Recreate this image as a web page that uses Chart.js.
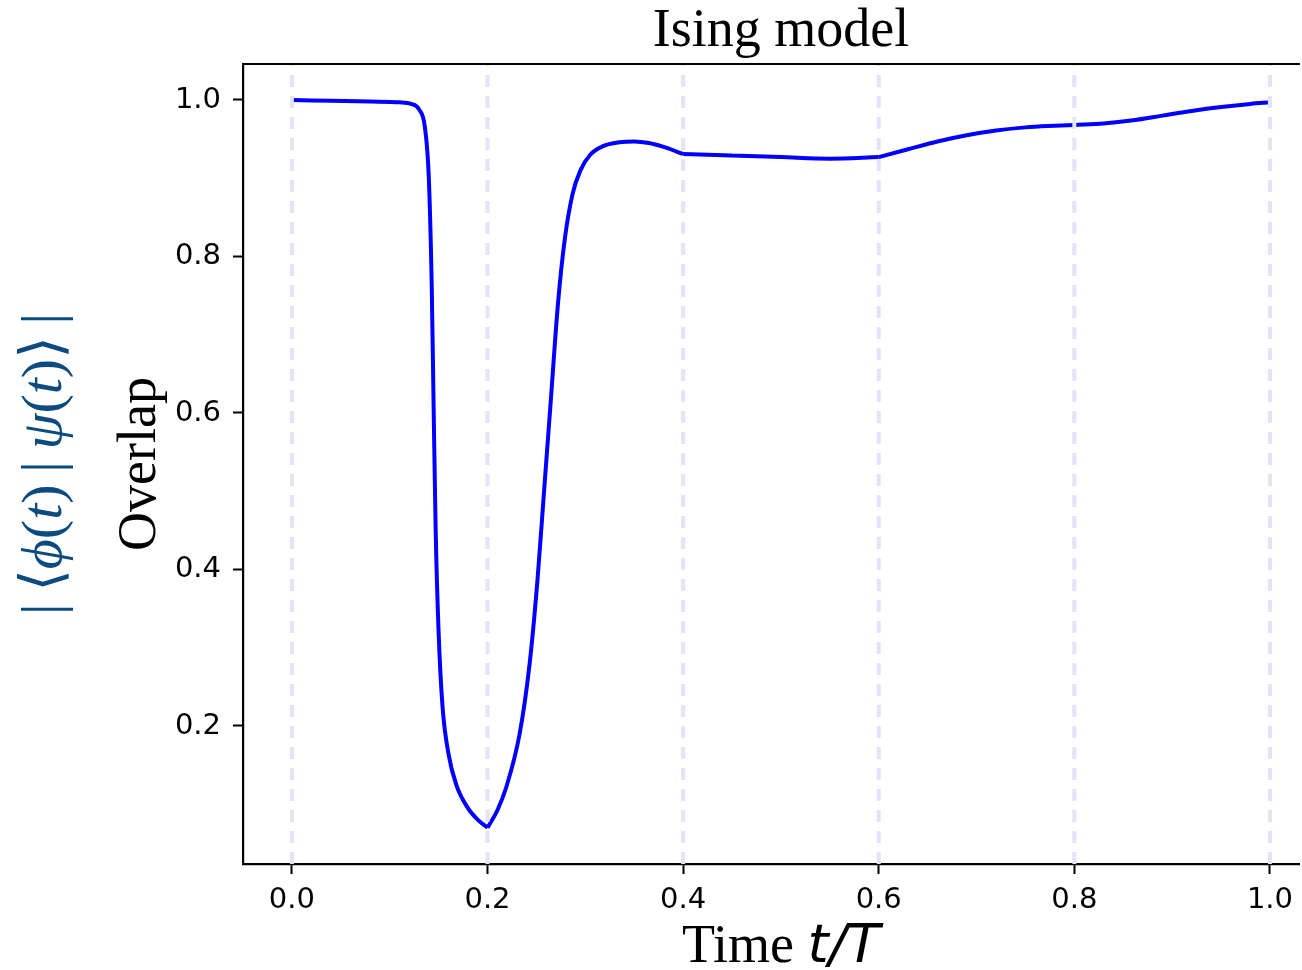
<!DOCTYPE html>
<html>
<head>
<meta charset="utf-8">
<script src="https://cdn.jsdelivr.net/npm/chart.js@4.4.0/dist/chart.umd.min.js"></script>
<style>
  html, body { margin: 0; padding: 0; background: #fff; }
  canvas { display: block; }
</style>
</head>
<body>
<canvas id="overlapChart" width="1302" height="970"></canvas>
<script>
// time in units of T, overlap
const timePoints = [
  0, 0.04, 0.08, 0.11, 0.122, 0.13, 0.136, 0.14, 0.143, 0.145, 0.147, 0.15, 0.154, 0.16, 0.168, 0.18, 0.191, 0.2,
  0.21, 0.219, 0.233, 0.243, 0.251, 0.258, 0.265, 0.272, 0.279, 0.287, 0.295, 0.305, 0.318, 0.335, 0.35, 0.365, 0.38, 0.4,
  0.45, 0.5, 0.55, 0.6,
  0.63, 0.66, 0.69, 0.72, 0.75, 0.78, 0.8,
  0.83, 0.86, 0.89, 0.92, 0.95, 0.98, 1.0
];
const overlapValues = [
  1.0, 0.999, 0.998, 0.997, 0.995, 0.988, 0.965, 0.900, 0.760, 0.600, 0.450, 0.320, 0.225, 0.165, 0.125, 0.095, 0.079, 0.070,
  0.092, 0.121, 0.191, 0.279, 0.385, 0.503, 0.621, 0.739, 0.822, 0.880, 0.910, 0.930, 0.941, 0.946, 0.947, 0.945, 0.940, 0.931,
  0.929, 0.927, 0.925, 0.927,
  0.937, 0.947, 0.955, 0.961, 0.965, 0.967, 0.968,
  0.970, 0.974, 0.980, 0.986, 0.991, 0.995, 0.997
];
// the evolution is split into these intervals (dashed markers too)
const segmentBounds = [0, 0.2, 0.4, 0.6, 0.8, 1.0];
const xTicks = [0, 0.2, 0.4, 0.6, 0.8, 1.0];
const yTicks = [0.2, 0.4, 0.6, 0.8, 1.0];

const titleText = 'Ising model';
const xLabelText = 'Time ';
const xLabelMath = 't/T';
const yLabelText = 'Overlap';
// [text, italic]
const yLabelMath = [['|', false], ['\u2009\u27E8', false], ['\u03D5', true], ['(', false], ['t', true], [')', false],
                    ['\u2009|\u2009', false], ['\u03C8', true], ['(', false], ['t', true], [')', false],
                    ['\u27E9\u2009', false], ['|', false]];

let datasets = [];
for (let s = 0; s < segmentBounds.length - 1; s++) {
  let pts = [];
  for (let i = 0; i < timePoints.length; i++) {
    if (timePoints[i] >= segmentBounds[s] && timePoints[i] <= segmentBounds[s + 1]) {
      pts.push({x: timePoints[i], y: overlapValues[i]});
    }
  }
  datasets.push({
    data: pts,
    borderColor: '#0000ff',
    borderWidth: 4,
    pointRadius: 0,
    cubicInterpolationMode: 'monotone',
    fill: false
  });
}

const decorations = {
  id: 'decorations',
  afterDatasetsDraw(chart) {
    const ctx = chart.ctx;
    const xs = chart.scales.x;
    const area = chart.chartArea;
    ctx.save();
    // dashed markers at the interval bounds
    ctx.strokeStyle = '#e3e3f9';
    ctx.lineWidth = 4;
    ctx.setLineDash([12, 9]);
    segmentBounds.forEach(v => {
      const px = xs.getPixelForValue(v);
      ctx.beginPath();
      ctx.moveTo(px, area.bottom);
      ctx.lineTo(px, area.top);
      ctx.stroke();
    });
    ctx.restore();
  },
  afterDraw(chart) {
    const ctx = chart.ctx;
    const xs = chart.scales.x;
    const area = chart.chartArea;
    const midX = xs.getPixelForValue(0.5);
    const midY = (area.top + area.bottom) / 2;
    ctx.save();
    // top spine
    ctx.strokeStyle = '#000';
    ctx.lineWidth = 2.2;
    ctx.beginPath();
    ctx.moveTo(area.left - 1, area.top);
    ctx.lineTo(area.right, area.top);
    ctx.stroke();

    ctx.fillStyle = '#000';
    ctx.textBaseline = 'alphabetic';
    ctx.textAlign = 'center';
    ctx.font = "54px 'Liberation Serif'";
    ctx.fillText(titleText, midX, 46);

    // x label: serif word + sans oblique math
    ctx.textAlign = 'left';
    ctx.font = "54px 'Liberation Serif'";
    const w1 = ctx.measureText(xLabelText).width;
    ctx.font = "italic 54px 'DejaVu Sans'";
    const w2 = ctx.measureText(xLabelMath).width;
    let x0 = midX - (w1 + w2) / 2;
    ctx.font = "54px 'Liberation Serif'";
    ctx.fillText(xLabelText, x0, 962);
    ctx.font = "italic 54px 'DejaVu Sans'";
    ctx.fillText(xLabelMath, x0 + w1, 962);

    // y labels, rotated
    ctx.translate(155, midY);
    ctx.rotate(-Math.PI / 2);
    ctx.textAlign = 'center';
    ctx.font = "54px 'Liberation Serif'";
    ctx.fillText(yLabelText, 0, 0);
    ctx.restore();

    ctx.save();
    ctx.translate(61, midY);
    ctx.rotate(-Math.PI / 2);
    ctx.fillStyle = '#0d4a7f';
    ctx.textAlign = 'left';
    const mathFont = p => (p[1] ? 'italic ' : '') + "58px 'Liberation Serif', 'DejaVu Serif'";
    let total = 0;
    yLabelMath.forEach(p => {
      ctx.font = mathFont(p);
      total += ctx.measureText(p[0]).width;
    });
    let cx = -total / 2;
    yLabelMath.forEach(p => {
      ctx.font = mathFont(p);
      ctx.fillText(p[0], cx, 0);
      cx += ctx.measureText(p[0]).width;
    });
    ctx.restore();
  }
};

new Chart(document.getElementById('overlapChart'), {
  type: 'line',
  data: { datasets: datasets },
  options: {
    responsive: false,
    animation: false,
    devicePixelRatio: 1,
    layout: { padding: { top: 64, left: 0, right: 0, bottom: 0 } },
    plugins: {
      legend: { display: false },
      tooltip: { enabled: false },
      title: { display: false }
    },
    scales: {
      x: {
        type: 'linear',
        min: -0.05,
        max: 1.0306,
        afterBuildTicks(scale) { scale.ticks = xTicks.map(v => ({value: v})); },
        afterFit(scale) { scale.height = 106; },
        grid: { drawOnChartArea: false, tickLength: 10, tickWidth: 2, tickColor: '#000' },
        border: { color: '#000', width: 2.2 },
        ticks: {
          color: '#000',
          padding: 9,
          maxRotation: 0,
          font: { family: 'DejaVu Sans', size: 29 },
          callback: v => v.toFixed(1)
        }
      },
      y: {
        min: 0.0236,
        max: 1.046,
        afterBuildTicks(scale) { scale.ticks = yTicks.map(v => ({value: v})); },
        afterFit(scale) { scale.width = 243; },
        grid: { drawOnChartArea: false, tickLength: 10, tickWidth: 2, tickColor: '#000' },
        border: { color: '#000', width: 2.2 },
        ticks: {
          color: '#000',
          padding: 12,
          font: { family: 'DejaVu Sans', size: 29 },
          callback: v => v.toFixed(1)
        }
      }
    }
  },
  plugins: [decorations]
});
</script>
</body>
</html>
